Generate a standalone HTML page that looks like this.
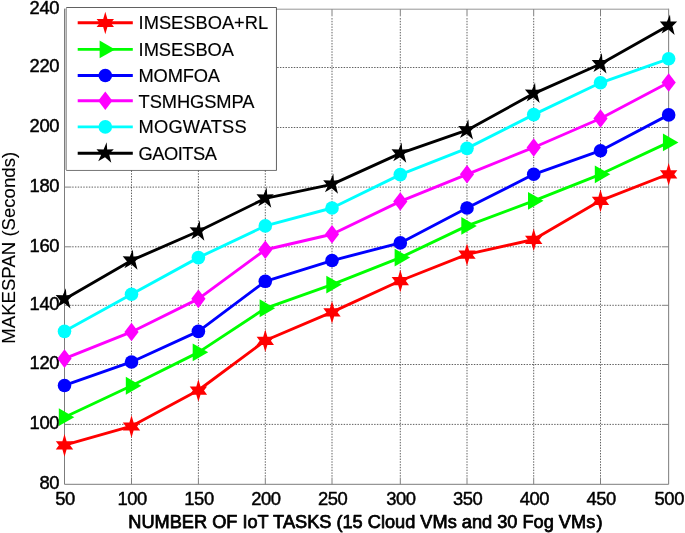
<!DOCTYPE html>
<html><head><meta charset="utf-8"><title>chart</title><style>html,body{margin:0;padding:0;background:#fff}body{width:685px;height:533px;overflow:hidden}</style></head><body>
<svg width="685" height="533" viewBox="0 0 685 533" style="display:block;will-change:transform" font-size="18px" fill="#000">
<style>svg,text{font-family:"Liberation Sans",sans-serif}text{stroke:#000;stroke-width:0.45px;stroke-linejoin:round}.lg{stroke-width:0.15px}.xl{stroke-width:0.75px}.yl{stroke-width:0.12px}</style>
<rect width="685" height="533" fill="#fff"/>
<path d="M131.50 476.60V16.50M198.40 476.60V16.50M265.30 476.60V16.50M332.00 476.60V16.50M400.30 476.60V16.50M467.00 476.60V16.50M533.70 476.60V16.50M600.50 476.60V16.50M72.20 424.40H661.35M72.20 364.50H661.35M72.20 305.30H661.35M72.20 246.80H661.35M72.20 187.10H661.35M72.20 127.50H661.35M72.20 67.50H661.35" stroke="#000" stroke-opacity="0.62" stroke-width="1" stroke-dasharray="1.45 1.32" fill="none"/>
<path d="M64.5 9.2V484.3H668.65V9.2" fill="none" stroke="#7c7c7c" stroke-width="1" stroke-linecap="square"/>
<path d="M64.5 9.2H668.65" fill="none" stroke="#959595" stroke-width="1"/>
<path d="M131.50 484.3v-6.8M131.50 9.2v6.8M198.40 484.3v-6.8M198.40 9.2v6.8M265.30 484.3v-6.8M265.30 9.2v6.8M332.00 484.3v-6.8M332.00 9.2v6.8M400.30 484.3v-6.8M400.30 9.2v6.8M467.00 484.3v-6.8M467.00 9.2v6.8M533.70 484.3v-6.8M533.70 9.2v6.8M600.50 484.3v-6.8M600.50 9.2v6.8M64.5 424.40h6.8M668.65 424.40h-6.8M64.5 364.50h6.8M668.65 364.50h-6.8M64.5 305.30h6.8M668.65 305.30h-6.8M64.5 246.80h6.8M668.65 246.80h-6.8M64.5 187.10h6.8M668.65 187.10h-6.8M64.5 127.50h6.8M668.65 127.50h-6.8M64.5 67.50h6.8M668.65 67.50h-6.8" stroke="#808080" stroke-width="1" fill="none"/>
<text x="65.10" y="504.6" font-size="18.4px" letter-spacing="-0.45" text-anchor="middle">50</text>
<text x="132.10" y="504.6" font-size="18.4px" letter-spacing="-0.45" text-anchor="middle">100</text>
<text x="199.00" y="504.6" font-size="18.4px" letter-spacing="-0.45" text-anchor="middle">150</text>
<text x="265.90" y="504.6" font-size="18.4px" letter-spacing="-0.45" text-anchor="middle">200</text>
<text x="332.60" y="504.6" font-size="18.4px" letter-spacing="-0.45" text-anchor="middle">250</text>
<text x="400.90" y="504.6" font-size="18.4px" letter-spacing="-0.45" text-anchor="middle">300</text>
<text x="467.60" y="504.6" font-size="18.4px" letter-spacing="-0.45" text-anchor="middle">350</text>
<text x="534.30" y="504.6" font-size="18.4px" letter-spacing="-0.45" text-anchor="middle">400</text>
<text x="601.10" y="504.6" font-size="18.4px" letter-spacing="-0.45" text-anchor="middle">450</text>
<text x="669.25" y="504.6" font-size="18.4px" letter-spacing="-0.45" text-anchor="middle">500</text>
<text x="59.1" y="489.25" font-size="18.4px" letter-spacing="-0.4" text-anchor="end">80</text>
<text x="59.1" y="429.35" font-size="18.4px" letter-spacing="-0.4" text-anchor="end">100</text>
<text x="59.1" y="369.45" font-size="18.4px" letter-spacing="-0.4" text-anchor="end">120</text>
<text x="59.1" y="310.25" font-size="18.4px" letter-spacing="-0.4" text-anchor="end">140</text>
<text x="59.1" y="251.75" font-size="18.4px" letter-spacing="-0.4" text-anchor="end">160</text>
<text x="59.1" y="192.05" font-size="18.4px" letter-spacing="-0.4" text-anchor="end">180</text>
<text x="59.1" y="132.45" font-size="18.4px" letter-spacing="-0.4" text-anchor="end">200</text>
<text x="59.1" y="72.45" font-size="18.4px" letter-spacing="-0.4" text-anchor="end">220</text>
<text x="59.1" y="14.15" font-size="18.4px" letter-spacing="-0.4" text-anchor="end">240</text>
<text class="xl" x="365.4" y="528.2" font-size="18.2px" text-anchor="middle">NUMBER OF IoT TASKS (15 Cloud VMs and 30 Fog VMs<tspan dx="1.2">)</tspan></text>
<text class="yl" transform="translate(15.2 247.8) rotate(-90)" font-size="18.6px" text-anchor="middle">MAKESPAN (Seconds)</text>
<polyline points="64.50,445.07 131.50,426.20 198.40,390.26 265.30,340.52 332.00,312.11 400.30,280.73 467.00,254.41 533.70,239.49 600.50,200.53 668.65,173.99" fill="none" stroke="#ff0000" stroke-width="2.9" stroke-linejoin="round"/>
<polygon points="64.50,434.07 66.60,441.27 73.20,441.27 70.10,445.37 73.20,449.47 66.60,449.47 64.50,456.67 62.40,449.47 55.80,449.47 58.90,445.37 55.80,441.27 62.40,441.27" fill="#ff0000"/>
<polygon points="131.50,415.20 133.60,422.40 140.20,422.40 137.10,426.50 140.20,430.60 133.60,430.60 131.50,437.80 129.40,430.60 122.80,430.60 125.90,426.50 122.80,422.40 129.40,422.40" fill="#ff0000"/>
<polygon points="198.40,379.26 200.50,386.46 207.10,386.46 204.00,390.56 207.10,394.66 200.50,394.66 198.40,401.86 196.30,394.66 189.70,394.66 192.80,390.56 189.70,386.46 196.30,386.46" fill="#ff0000"/>
<polygon points="265.30,329.52 267.40,336.72 274.00,336.72 270.90,340.82 274.00,344.92 267.40,344.92 265.30,352.12 263.20,344.92 256.60,344.92 259.70,340.82 256.60,336.72 263.20,336.72" fill="#ff0000"/>
<polygon points="332.00,301.11 334.10,308.31 340.70,308.31 337.60,312.41 340.70,316.51 334.10,316.51 332.00,323.71 329.90,316.51 323.30,316.51 326.40,312.41 323.30,308.31 329.90,308.31" fill="#ff0000"/>
<polygon points="400.30,269.73 402.40,276.93 409.00,276.93 405.90,281.03 409.00,285.13 402.40,285.13 400.30,292.33 398.20,285.13 391.60,285.13 394.70,281.03 391.60,276.93 398.20,276.93" fill="#ff0000"/>
<polygon points="467.00,243.41 469.10,250.61 475.70,250.61 472.60,254.71 475.70,258.81 469.10,258.81 467.00,266.00 464.90,258.81 458.30,258.81 461.40,254.71 458.30,250.61 464.90,250.61" fill="#ff0000"/>
<polygon points="533.70,228.49 535.80,235.69 542.40,235.69 539.30,239.79 542.40,243.89 535.80,243.89 533.70,251.09 531.60,243.89 525.00,243.89 528.10,239.79 525.00,235.69 531.60,235.69" fill="#ff0000"/>
<polygon points="600.50,189.53 602.60,196.73 609.20,196.73 606.10,200.83 609.20,204.93 602.60,204.93 600.50,212.13 598.40,204.93 591.80,204.93 594.90,200.83 591.80,196.73 598.40,196.73" fill="#ff0000"/>
<polygon points="668.65,162.99 670.75,170.19 677.35,170.19 674.25,174.29 677.35,178.39 670.75,178.39 668.65,185.59 666.55,178.39 659.95,178.39 663.05,174.29 659.95,170.19 666.55,170.19" fill="#ff0000"/>
<polyline points="64.50,417.21 131.50,385.76 198.40,352.36 265.30,308.26 332.00,284.53 400.30,257.62 467.00,225.91 533.70,200.83 600.50,174.29 668.65,142.40" fill="none" stroke="#00ff00" stroke-width="2.9" stroke-linejoin="round"/>
<polygon points="58.80,408.31 74.30,417.21 58.80,426.11" fill="#00ff00"/>
<polygon points="125.80,376.86 141.30,385.76 125.80,394.66" fill="#00ff00"/>
<polygon points="192.70,343.46 208.20,352.36 192.70,361.26" fill="#00ff00"/>
<polygon points="259.60,299.36 275.10,308.26 259.60,317.16" fill="#00ff00"/>
<polygon points="326.30,275.63 341.80,284.53 326.30,293.43" fill="#00ff00"/>
<polygon points="394.60,248.72 410.10,257.62 394.60,266.52" fill="#00ff00"/>
<polygon points="461.30,217.00 476.80,225.91 461.30,234.81" fill="#00ff00"/>
<polygon points="528.00,191.93 543.50,200.83 528.00,209.73" fill="#00ff00"/>
<polygon points="594.80,165.39 610.30,174.29 594.80,183.19" fill="#00ff00"/>
<polygon points="662.95,133.50 678.45,142.40 662.95,151.30" fill="#00ff00"/>
<polyline points="64.50,385.46 131.50,361.98 198.40,331.35 265.30,281.32 332.00,260.55 400.30,242.92 467.00,208.00 533.70,174.29 600.50,150.74 668.65,114.90" fill="none" stroke="#0000ff" stroke-width="2.9" stroke-linejoin="round"/>
<circle cx="64.50" cy="385.46" r="6.8" fill="#0000ff"/>
<circle cx="131.50" cy="361.98" r="6.8" fill="#0000ff"/>
<circle cx="198.40" cy="331.35" r="6.8" fill="#0000ff"/>
<circle cx="265.30" cy="281.32" r="6.8" fill="#0000ff"/>
<circle cx="332.00" cy="260.55" r="6.8" fill="#0000ff"/>
<circle cx="400.30" cy="242.92" r="6.8" fill="#0000ff"/>
<circle cx="467.00" cy="208.00" r="6.8" fill="#0000ff"/>
<circle cx="533.70" cy="174.29" r="6.8" fill="#0000ff"/>
<circle cx="600.50" cy="150.74" r="6.8" fill="#0000ff"/>
<circle cx="668.65" cy="114.90" r="6.8" fill="#0000ff"/>
<polyline points="64.50,358.58 131.50,331.94 198.40,298.87 265.30,249.73 332.00,234.26 400.30,201.43 467.00,174.29 533.70,147.47 600.50,118.50 668.65,82.50" fill="none" stroke="#ff00ff" stroke-width="2.9" stroke-linejoin="round"/>
<polygon points="64.50,349.28 71.60,358.58 64.50,367.88 57.40,358.58" fill="#ff00ff"/>
<polygon points="131.50,322.64 138.60,331.94 131.50,341.24 124.40,331.94" fill="#ff00ff"/>
<polygon points="198.40,289.57 205.50,298.87 198.40,308.17 191.30,298.87" fill="#ff00ff"/>
<polygon points="265.30,240.43 272.40,249.73 265.30,259.03 258.20,249.73" fill="#ff00ff"/>
<polygon points="332.00,224.96 339.10,234.26 332.00,243.56 324.90,234.26" fill="#ff00ff"/>
<polygon points="400.30,192.13 407.40,201.43 400.30,210.73 393.20,201.43" fill="#ff00ff"/>
<polygon points="467.00,164.99 474.10,174.29 467.00,183.59 459.90,174.29" fill="#ff00ff"/>
<polygon points="533.70,138.17 540.80,147.47 533.70,156.77 526.60,147.47" fill="#ff00ff"/>
<polygon points="600.50,109.20 607.60,118.50 600.50,127.80 593.40,118.50" fill="#ff00ff"/>
<polygon points="668.65,73.20 675.75,82.50 668.65,91.80 661.55,82.50" fill="#ff00ff"/>
<polyline points="64.50,331.35 131.50,294.19 198.40,257.62 265.30,225.91 332.00,208.00 400.30,174.58 467.00,148.36 533.70,114.60 600.50,82.80 668.65,58.76" fill="none" stroke="#00ffff" stroke-width="2.9" stroke-linejoin="round"/>
<circle cx="64.50" cy="331.35" r="6.8" fill="#00ffff"/>
<circle cx="131.50" cy="294.19" r="6.8" fill="#00ffff"/>
<circle cx="198.40" cy="257.62" r="6.8" fill="#00ffff"/>
<circle cx="265.30" cy="225.91" r="6.8" fill="#00ffff"/>
<circle cx="332.00" cy="208.00" r="6.8" fill="#00ffff"/>
<circle cx="400.30" cy="174.58" r="6.8" fill="#00ffff"/>
<circle cx="467.00" cy="148.36" r="6.8" fill="#00ffff"/>
<circle cx="533.70" cy="114.60" r="6.8" fill="#00ffff"/>
<circle cx="600.50" cy="82.80" r="6.8" fill="#00ffff"/>
<circle cx="668.65" cy="58.76" r="6.8" fill="#00ffff"/>
<polyline points="64.50,299.16 131.50,260.40 198.40,231.28 265.30,198.44 332.00,184.42 400.30,153.43 467.00,130.18 533.70,93.60 600.50,64.00 668.65,25.52" fill="none" stroke="#000000" stroke-width="2.9" stroke-linejoin="round"/>
<polygon points="65.85,288.16 66.40,295.26 73.00,295.06 68.30,299.96 70.50,308.56 64.20,303.06 57.40,307.06 60.40,300.66 55.70,295.06 62.80,295.26" fill="#000000"/>
<polygon points="132.85,249.40 133.40,256.50 140.00,256.30 135.30,261.20 137.50,269.80 131.20,264.30 124.40,268.30 127.40,261.90 122.70,256.30 129.80,256.50" fill="#000000"/>
<polygon points="199.75,220.28 200.30,227.38 206.90,227.18 202.20,232.08 204.40,240.68 198.10,235.18 191.30,239.18 194.30,232.78 189.60,227.18 196.70,227.38" fill="#000000"/>
<polygon points="266.65,187.44 267.20,194.54 273.80,194.34 269.10,199.24 271.30,207.84 265.00,202.34 258.20,206.34 261.20,199.94 256.50,194.34 263.60,194.54" fill="#000000"/>
<polygon points="333.35,173.42 333.90,180.52 340.50,180.32 335.80,185.22 338.00,193.82 331.70,188.32 324.90,192.32 327.90,185.92 323.20,180.32 330.30,180.52" fill="#000000"/>
<polygon points="401.65,142.43 402.20,149.53 408.80,149.33 404.10,154.23 406.30,162.83 400.00,157.33 393.20,161.33 396.20,154.93 391.50,149.33 398.60,149.53" fill="#000000"/>
<polygon points="468.35,119.18 468.90,126.28 475.50,126.08 470.80,130.98 473.00,139.58 466.70,134.08 459.90,138.08 462.90,131.68 458.20,126.08 465.30,126.28" fill="#000000"/>
<polygon points="535.05,82.60 535.60,89.70 542.20,89.50 537.50,94.40 539.70,103.00 533.40,97.50 526.60,101.50 529.60,95.10 524.90,89.50 532.00,89.70" fill="#000000"/>
<polygon points="601.85,53.00 602.40,60.10 609.00,59.90 604.30,64.80 606.50,73.40 600.20,67.90 593.40,71.90 596.40,65.50 591.70,59.90 598.80,60.10" fill="#000000"/>
<polygon points="670.00,14.52 670.55,21.62 677.15,21.42 672.45,26.32 674.65,34.92 668.35,29.42 661.55,33.42 664.55,27.02 659.85,21.42 666.95,21.62" fill="#000000"/>
<rect x="66.6" y="7.5" width="209.85" height="162.95" fill="#fff"/>
<path d="M66.1 7.5H276.45V170.45" fill="none" stroke="#000" stroke-opacity="0.62" stroke-width="1"/>
<path d="M276.45 170.45H66.1" fill="none" stroke="#000" stroke-opacity="0.55" stroke-width="1"/>
<path d="M66.5 7.5V170.45" fill="none" stroke="#a6a6a6" stroke-width="1"/>
<path d="M65.5 9.7V169.95" fill="none" stroke="#c6c6c6" stroke-width="1"/>
<path d="M77.7 22.70H132.8" stroke="#ff0000" stroke-width="2.9"/>
<polygon points="105.30,11.70 107.40,18.90 114.00,18.90 110.90,23.00 114.00,27.10 107.40,27.10 105.30,34.30 103.20,27.10 96.60,27.10 99.70,23.00 96.60,18.90 103.20,18.90" fill="#ff0000"/>
<text class="lg" x="138.6" y="29.40" font-size="18.3px" letter-spacing="0">IMSESBOA+RL</text>
<path d="M77.7 49.40H132.8" stroke="#00ff00" stroke-width="2.9"/>
<polygon points="99.60,40.50 115.10,49.40 99.60,58.30" fill="#00ff00"/>
<text class="lg" x="138.6" y="55.90" font-size="18.3px" letter-spacing="-0.02">IMSESBOA</text>
<path d="M77.7 75.50H132.8" stroke="#0000ff" stroke-width="2.9"/>
<circle cx="105.30" cy="75.50" r="6.8" fill="#0000ff"/>
<text class="lg" x="138.6" y="82.10" font-size="18.3px" letter-spacing="-0.2">MOMFOA</text>
<path d="M77.7 100.70H132.8" stroke="#ff00ff" stroke-width="2.9"/>
<polygon points="105.30,91.40 112.40,100.70 105.30,110.00 98.20,100.70" fill="#ff00ff"/>
<text class="lg" x="138.6" y="107.70" font-size="18.3px" letter-spacing="-0.08">TSMHGSMPA</text>
<path d="M77.7 126.90H132.8" stroke="#00ffff" stroke-width="2.9"/>
<circle cx="105.30" cy="126.90" r="6.8" fill="#00ffff"/>
<text class="lg" x="138.6" y="133.20" font-size="18.3px" letter-spacing="0.2">MOGWATSS</text>
<path d="M77.7 153.30H132.8" stroke="#000000" stroke-width="2.9"/>
<polygon points="106.65,142.30 107.20,149.40 113.80,149.20 109.10,154.10 111.30,162.70 105.00,157.20 98.20,161.20 101.20,154.80 96.50,149.20 103.60,149.40" fill="#000000"/>
<text class="lg" x="138.6" y="159.50" font-size="18.3px" letter-spacing="-0.5">GAOITSA</text>
</svg>
</body></html>
